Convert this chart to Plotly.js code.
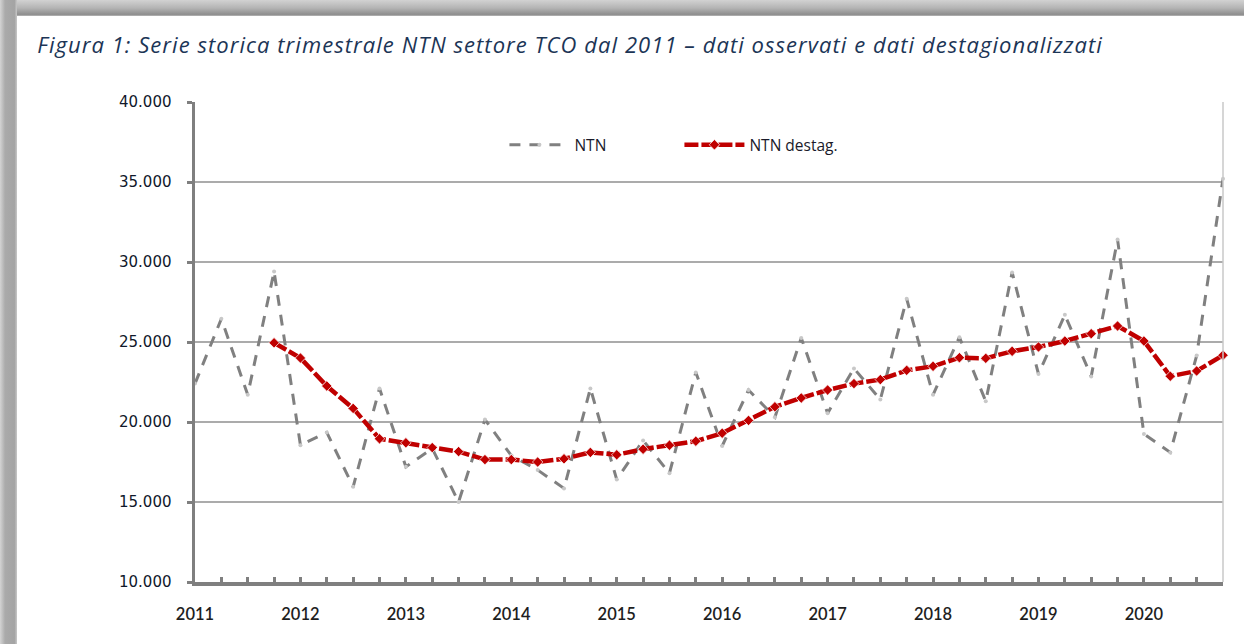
<!DOCTYPE html>
<html>
<head>
<meta charset="utf-8">
<script src="https://cdn.plot.ly/plotly-3.0.1.min.js"></script>
<style>
  html, body { margin: 0; padding: 0; background: #ffffff; }
  #wrap { position: relative; width: 1244px; height: 644px; overflow: hidden; }
  #chart { position: absolute; left: 0; top: 0; width: 1244px; height: 644px; }
  #chart .gtitle { letter-spacing: 1.05px; }
  #bandTop { position: absolute; left: 0; top: 0; width: 1244px; height: 16px;
    background: linear-gradient(to bottom, #d2d2d2 0%, #b4b4b4 50%, #8e8e8e 90%, #b8b8b8 100%); pointer-events: none; }
  #bandLeft { position: absolute; left: 0; top: 0; width: 17px; height: 644px;
    background: linear-gradient(to right, #d4d4d4 0%, #aaaaaa 30%, #a4a4a4 85%, #c8c8c8 100%); pointer-events: none; }
</style>
</head>
<body>
<div id="wrap">
  <div id="chart"></div>
  <div id="bandTop"></div>
  <div id="bandLeft"></div>
</div>
<script>
// Quarterly categories 2011 T1 .. 2020 T4
const years = ["2011","2012","2013","2014","2015","2016","2017","2018","2019","2020"];
const quarters = [
  "2011 T1","2011 T2","2011 T3","2011 T4",
  "2012 T1","2012 T2","2012 T3","2012 T4",
  "2013 T1","2013 T2","2013 T3","2013 T4",
  "2014 T1","2014 T2","2014 T3","2014 T4",
  "2015 T1","2015 T2","2015 T3","2015 T4",
  "2016 T1","2016 T2","2016 T3","2016 T4",
  "2017 T1","2017 T2","2017 T3","2017 T4",
  "2018 T1","2018 T2","2018 T3","2018 T4",
  "2019 T1","2019 T2","2019 T3","2019 T4",
  "2020 T1","2020 T2","2020 T3","2020 T4"
];
// NTN observed
const ntn = [
  22400, 26450, 21700, 29400,
  18550, 19350, 15950, 22100,
  17200, 18350, 15000, 20150,
  17900, 17000, 15850, 22100,
  16400, 18850, 16800, 23100,
  18500, 22000, 20300, 25250,
  20550, 23350, 21400, 27700,
  21700, 25300, 21300, 29350,
  23000, 26700, 22850, 31400,
  19250, 18100, 24150, 35200
];
// NTN seasonally adjusted (starts 2011 T4)
const ntnDestag = [
  null, null, null, 24950,
  24000, 22250, 20850, 18950,
  18700, 18400, 18150, 17650,
  17650, 17500, 17700, 18100,
  17950, 18300, 18550, 18800,
  19300, 20100, 20950, 21500,
  22000, 22400, 22650, 23230,
  23480, 24020, 23980, 24420,
  24690, 25060, 25520, 26000,
  25060, 22860, 23190, 24170
];
const yTicks = [10000, 15000, 20000, 25000, 30000, 35000, 40000];

const tickText = quarters.map(q => q.endsWith("T1") ? q.slice(0, 4) : "");

const traces = [
  {
    x: quarters, y: ntn, name: "NTN", type: "scatter", mode: "lines+markers",
    line: { color: "#808080", width: 3, dash: "11px,9px" },
    marker: { color: "#c8c8c8", size: 4, symbol: "circle" },
    cliponaxis: false
  },
  {
    x: quarters, y: ntnDestag, name: "NTN destag.", type: "scatter", mode: "lines+markers",
    line: { color: "#c00000", width: 4.5, dash: "14px,3px" },
    marker: { color: "#c00000", size: 8, symbol: "diamond", line: { color: "rgba(255,255,255,0.7)", width: 1 } },
    connectgaps: false, cliponaxis: false
  }
];

const layout = {
  width: 1244, height: 644,
  paper_bgcolor: "#ffffff", plot_bgcolor: "#ffffff",
  separators: ",.",
  margin: { l: 195, r: 21, t: 102, b: 62 },
  showlegend: true,
  title: {
    text: "Figura 1: Serie storica trimestrale NTN settore TCO dal 2011 – dati osservati e dati destagionalizzati",
    font: { family: "Open Sans", size: 22, color: "#1c3556", style: "italic" },
    xref: "container", yref: "container", x: 0.03, xanchor: "left", y: 0.93, yanchor: "middle"
  },
  xaxis: {
    type: "category",
    range: [0, 39],
    tickmode: "array", tickvals: quarters, ticktext: tickText,
    showgrid: false, zeroline: false,
    showline: true, linecolor: "#7f7f7f", linewidth: 4,
    ticks: "inside", ticklen: 5, tickwidth: 3, tickcolor: "#7f7f7f",
    ticklabelstandoff: 14,
    tickfont: { family: "Lato", size: 16.5, color: "#1e1e1e", weight: 600 },
    fixedrange: true
  },
  yaxis: {
    range: [10000, 40000],
    tickmode: "array", tickvals: yTicks, tickformat: ",d",
    showgrid: true, gridcolor: "#ababab", gridwidth: 1.5,
    zeroline: false,
    showline: true, linecolor: "#7f7f7f", linewidth: 3.5,
    ticks: "outside", ticklen: 5, tickwidth: 3, tickcolor: "#7f7f7f",
    ticklabelstandoff: 12,
    tickfont: { family: "DejaVu Sans", size: 15, color: "#10182a" },
    fixedrange: true
  },
  legend: {
    orientation: "h", x: 0.301, xanchor: "left", y: 0.91, yanchor: "middle",
    bgcolor: "rgba(0,0,0,0)", itemwidth: 60,
    entrywidth: 100, entrywidthmode: "pixels",
    font: { family: "Open Sans", size: 15.5, color: "#1a1a2a" }
  },
  shapes: [
    { type: "line", xref: "paper", yref: "paper", x0: 1, x1: 1, y0: 0, y1: 1,
      line: { color: "#c8c8c8", width: 1.5 } }
  ]
};

Plotly.newPlot("chart", traces, layout, { staticPlot: true, displayModeBar: false });
</script>
</body>
</html>
